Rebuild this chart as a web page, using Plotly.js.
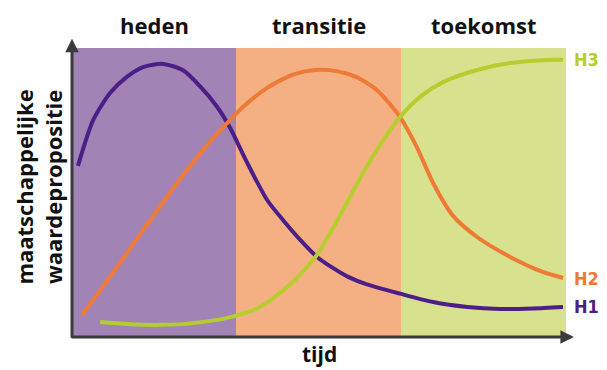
<!DOCTYPE html>
<html>
<head>
<meta charset="utf-8">
<script src="https://cdn.plot.ly/plotly-3.0.1.min.js"></script>
<style>
  html, body { margin: 0; padding: 0; background: #fff; }
  #graph { width: 607px; height: 370px; }
</style>
</head>
<body>
<div id="graph"></div>
<script>
// phases along the time axis (0-100)
const phases = ['heden', 'transitie', 'toekomst'];
const phaseEdges = [0, 33.2, 66.6, 100];
const phaseColors = ['#a184b5', '#f4b083', '#d8e18e'];

// H1 - purple
const h1x = [1.2, 4.3, 7.7, 11.1, 14.4, 18.4, 22.5, 25.9, 29.4, 32.0, 35.4, 39.5, 42.7, 46.2, 49.6, 52.8, 55.9, 59.7, 66.4, 73.1, 80.0, 86.6, 93.3, 99.4];
const h1y = [59.2, 75.1, 84.4, 90.0, 93.4, 94.5, 92.3, 86.8, 79.6, 72.4, 60.5, 47.4, 40.5, 33.6, 27.7, 23.9, 20.8, 18.2, 15.0, 12.1, 10.4, 9.7, 9.9, 10.4];

// H2 - orange
const h2x = [2.0, 7.7, 14.4, 21.3, 27.9, 31.4, 34.6, 39.5, 44.7, 49.2, 53.5, 57.5, 61.7, 66.4, 69.8, 73.1, 77.1, 82.0, 88.7, 95.3, 99.4];
const h2y = [7.6, 20.8, 37.0, 53.3, 67.5, 74.0, 79.6, 86.2, 90.8, 92.4, 92.0, 90.0, 85.5, 76.1, 65.7, 53.3, 42.0, 34.6, 27.7, 22.5, 20.4];

// H3 - green
const h3x = [5.7, 11.1, 17.8, 24.5, 31.4, 38.1, 44.7, 49.6, 52.8, 56.3, 59.0, 61.7, 66.4, 70.4, 75.1, 82.0, 88.7, 95.3, 99.4];
const h3y = [5.2, 4.5, 4.2, 4.8, 6.6, 10.4, 19.0, 28.4, 37.6, 48.5, 57.0, 64.7, 76.1, 83.0, 88.2, 92.4, 94.8, 95.8, 95.9];

const seriesNames = ['H1', 'H2', 'H3'];
const lineColors = ['#4b1f87', '#ee7a35', '#b5cd2e'];

const headFont = { family: 'Open Sans, Inter, sans-serif', size: 22, color: '#111' };
const labelFont = { family: 'Liberation Sans Narrow, DejaVu Sans Condensed, sans-serif', size: 18 };

const xs = [h1x, h2x, h3x];
const ys = [h1y, h2y, h3y];

const data = xs.map((xv, i) => ({
    x: xv,
    y: ys[i],
    mode: 'lines',
    type: 'scatter',
    name: seriesNames[i],
    line: { color: lineColors[i], width: 4, shape: 'spline', smoothing: 0.7 },
    hoverinfo: 'skip'
}));

// background bands
const shapes = phases.map((p, i) => ({
    type: 'rect', xref: 'x', yref: 'paper', layer: 'below',
    x0: phaseEdges[i], x1: phaseEdges[i + 1], y0: 0, y1: 1,
    fillcolor: phaseColors[i], line: { width: 0 }
}));

const annotations = [];

// phase headers
phases.forEach((p, i) => {
    annotations.push({
        text: '<b>' + p + '</b>', xref: 'x', yref: 'paper',
        x: (phaseEdges[i] + phaseEdges[i + 1]) / 2, y: 1.08, yanchor: 'middle',
        showarrow: false, font: headFont
    });
});

// line end labels
ys.forEach((yv, i) => {
    annotations.push({
        text: '<b>' + seriesNames[i] + '</b>', xref: 'paper', yref: 'y',
        x: 1.012, y: yv[yv.length - 1], xanchor: 'left', yanchor: 'middle',
        showarrow: false, font: Object.assign({}, labelFont, { color: lineColors[i] })
    });
});

// axis arrows
annotations.push({
    xref: 'x domain', yref: 'y domain', axref: 'x domain', ayref: 'y domain',
    x: 0, y: 1.032, ax: 0, ay: -0.008, text: '',
    showarrow: true, arrowhead: 2, arrowsize: 0.9, arrowwidth: 3, arrowcolor: '#3a3a3a'
});
annotations.push({
    xref: 'x domain', yref: 'y domain', axref: 'x domain', ayref: 'y domain',
    x: 1.016, y: 0, ax: -0.004, ay: 0, text: '',
    showarrow: true, arrowhead: 2, arrowsize: 0.9, arrowwidth: 3, arrowcolor: '#3a3a3a'
});

// axis titles
annotations.push({
    text: '<b>tijd</b>', xref: 'paper', yref: 'paper', x: 0.5, y: -0.06,
    xanchor: 'center', yanchor: 'middle',
    showarrow: false, font: Object.assign({}, headFont, { size: 21 })
});
annotations.push({
    text: '<b>maatschappelijke<br>waardepropositie</b>', xref: 'paper', yref: 'paper',
    x: -0.067, y: 0.52, xanchor: 'center', yanchor: 'middle', textangle: -90,
    showarrow: false, font: headFont
});

const layout = {
    width: 607, height: 370,
    margin: { l: 72, r: 41, t: 48, b: 33 },
    paper_bgcolor: '#fff', plot_bgcolor: '#fff',
    showlegend: false,
    xaxis: { range: [0, 100], showgrid: false, zeroline: false, showticklabels: false, ticks: '', showline: false },
    yaxis: { range: [0, 100], showgrid: false, zeroline: false, showticklabels: false, ticks: '', showline: false },
    shapes: shapes,
    annotations: annotations
};

Plotly.newPlot('graph', data, layout, { displayModeBar: false, staticPlot: true });
</script>
</body>
</html>
